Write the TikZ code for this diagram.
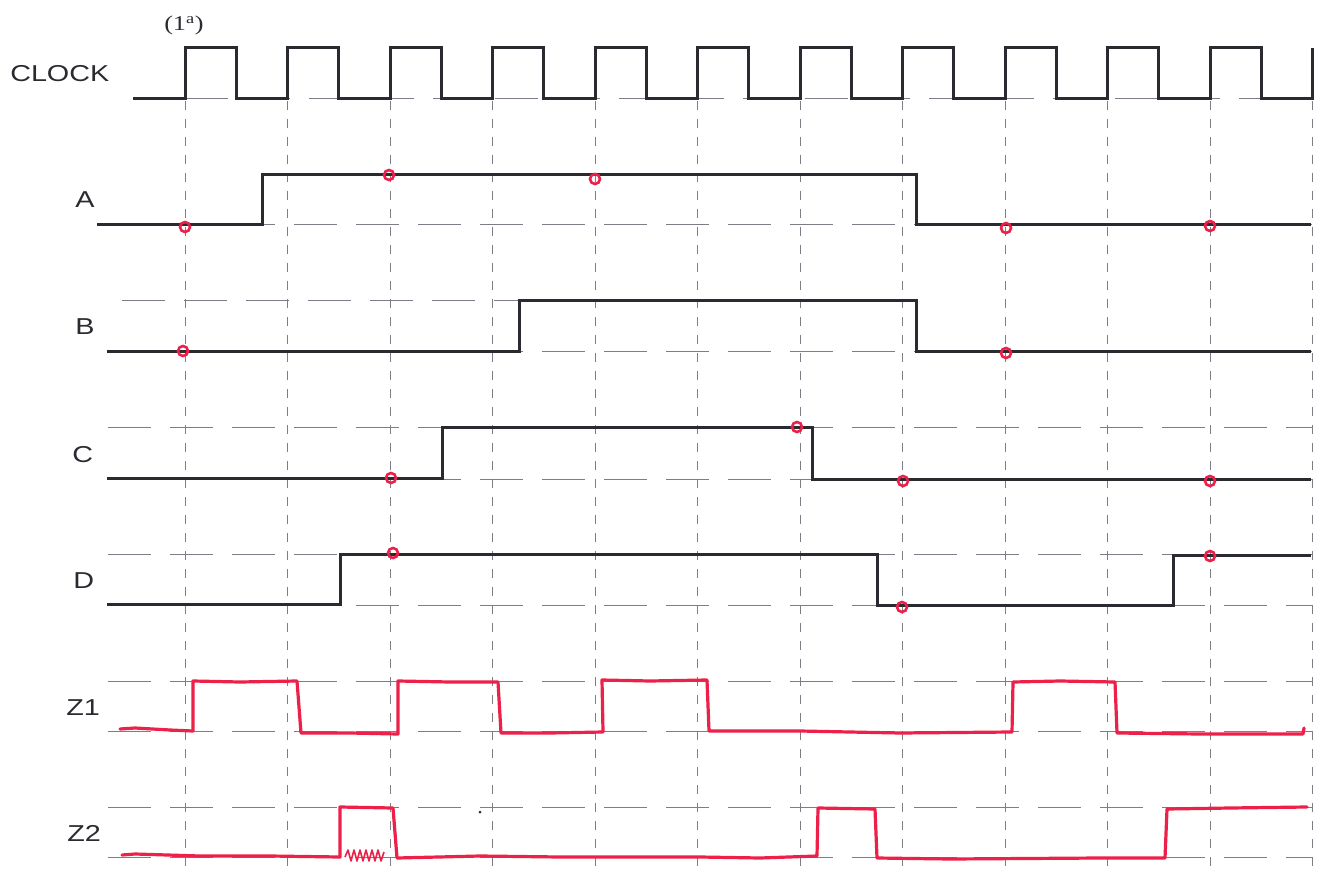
\documentclass[tikz,border=0pt]{standalone}
\usepackage{fontspec}
\setmainfont{Liberation Sans}
\newfontfamily\serifnum{Liberation Serif}
\definecolor{sig}{RGB}{42,42,48}
\definecolor{grid}{RGB}{125,125,135}
\definecolor{pen}{RGB}{236,32,72}
\begin{document}
\begin{tikzpicture}[x=1pt,y=-1pt,
  signal/.style={draw=sig,line width=3pt,line join=miter},
  vgrid/.style={draw=grid,line width=1pt,dash pattern=on 9pt off 9pt},
  hgrid/.style={draw=grid,line width=1pt,dash pattern=on 43pt off 19pt},
  hand/.style={draw=pen,line width=3.2pt,line join=round,line cap=round},
  probe/.style={draw=pen,line width=2.6pt,circle,inner sep=0pt,minimum size=10pt},
  lbl/.style={anchor=base west,inner sep=0pt,text=sig,font=\fontsize{23}{23}\selectfont,xscale=1.25}]
\useasboundingbox (0,0) rectangle (1321,874);
\fill[white] (0,0) rectangle (1321,874);
% vertical dashed grid at rising clock edges
\foreach \k in {0,...,11}{
  \draw[vgrid] ({185+102.5*\k},101) -- ({185+102.5*\k},874);
}
% horizontal dashed reference levels
\draw[hgrid] (185,99) -- (1312,99);
\draw[hgrid] (108,225) -- (1312,225);
\draw[hgrid] (122,301) -- (519,301);
\draw[hgrid] (108,351) -- (1312,351);
\draw[hgrid] (108,427) -- (1312,427);
\draw[hgrid] (108,479) -- (1312,479);
\draw[hgrid] (108,554) -- (1312,554);
\draw[hgrid] (108,605) -- (1312,605);
\draw[hgrid] (108,681) -- (1312,681);
\draw[hgrid] (108,731) -- (1312,731);
\draw[hgrid] (108,807) -- (1312,807);
\draw[hgrid] (108,857) -- (1312,857);
% labels
\node[lbl] (lclk) at (10,82) {CLOCK};
\node[lbl] (la) at (75,208) {A};
\node[lbl] (lb) at (75,334) {B};
\node[lbl] (lc) at (72,462) {C};
\node[lbl] (ld) at (73,588) {D};
\node[lbl] (lz1) at (66,715) {Z1};
\node[lbl] (lz2) at (67,841) {Z2};
\node[anchor=base west,inner sep=0pt,text=sig,font=\serifnum\fontsize{21}{21}\selectfont,xscale=1.25] (first) at (164,31) {(1\textsuperscript{a})};
% clock
\draw[signal] (133,99) \foreach \k in {0,...,10}{
  -- ({185+102.5*\k},99) -- ({185+102.5*\k},48) -- ({236.25+102.5*\k},48) -- ({236.25+102.5*\k},99)}
  -- (1312.5,99) -- (1312.5,48);
% A, B, C, D
\draw[signal] (97,225) -- (262,225) -- (262,175) -- (916,175) -- (916,225) -- (1311,225);
\draw[signal] (107,351) -- (519,351) -- (519,301) -- (916,301) -- (916,351) -- (1311,351);
\draw[signal] (107,478) -- (442,478) -- (442,427) -- (812,427) -- (812,479) -- (1311,479);
\draw[signal] (107,604) -- (340,604) -- (340,554) -- (877,554) -- (877,605) -- (1173,605) -- (1173,555) -- (1311,555);
% Z1 (hand drawn)
\draw[hand] (120,729) -- (135,728) -- (170,730) -- (193,731) -- (193,681) -- (240,682) -- (297,681)
  -- (301,733) -- (350,733) -- (398,734) -- (398,681) -- (450,682) -- (498,682) -- (501,733)
  -- (550,733) -- (603,732) -- (602,680) -- (650,681) -- (707,680) -- (709,731) -- (800,731)
  -- (900,733) -- (1012,732) -- (1013,682) -- (1060,681) -- (1115,682) -- (1117,733)
  -- (1200,734) -- (1303,734) -- (1304,728);
% Z2 (hand drawn)
\draw[hand] (122,855) -- (135,854) -- (200,856) -- (270,856) -- (340,857) -- (340,807) -- (393,808)
  -- (397,858) -- (480,856) -- (560,857) -- (700,857) -- (760,858) -- (817,856) -- (818,808)
  -- (875,809) -- (877,858) -- (950,859) -- (1100,858) -- (1165,858) -- (1167,809)
  -- (1230,808) -- (1307,807);
\draw[pen,line width=1.6pt,line join=round] (345,857) -- (348,850) -- (351,861) -- (354,850) -- (357,861)
  -- (360,850) -- (363,861) -- (366,850) -- (369,861) -- (372,850) -- (375,861) -- (378,850) -- (381,861) -- (384,852);
\fill[sig] (480,812) circle (1.5pt);
% probe circles
\foreach \p/\n in {{(185,227)}/a1,{(389,175)}/a2,{(595,179)}/a3,{(1006,228)}/a4,{(1210,226)}/a5,
  {(183,351)}/b1,{(1006,353)}/b2,
  {(391,478)}/c1,{(797,427)}/c2,{(903,481)}/c3,{(1210,481)}/c4,
  {(393,553)}/d1,{(902,607)}/d2,{(1210,556)}/d3}{
  \node[probe] (\n) at \p {};
}
\end{tikzpicture}
\end{document}
